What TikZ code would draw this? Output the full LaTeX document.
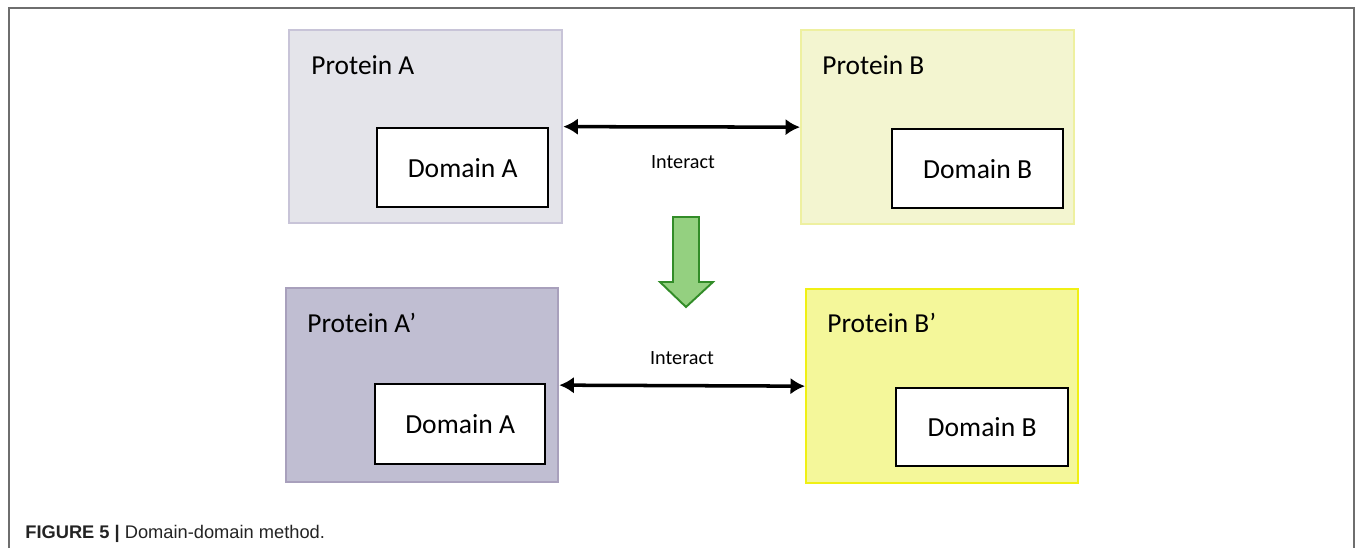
\documentclass[tikz,border=0pt]{standalone}
\usepackage{fontspec}
\setmainfont{Carlito}
\newfontfamily\capfont{Liberation Sans}
\usetikzlibrary{arrows.meta,positioning}
\definecolor{ProtA}{RGB}{228,228,234}
\definecolor{ProtAline}{RGB}{200,196,216}
\definecolor{ProtB}{RGB}{243,245,208}
\definecolor{ProtBline}{RGB}{238,240,160}
\definecolor{ProtAp}{RGB}{192,190,210}
\definecolor{ProtApline}{RGB}{168,160,188}
\definecolor{ProtBp}{RGB}{244,247,154}
\definecolor{ProtBpline}{RGB}{240,240,20}
\definecolor{downfill}{RGB}{148,208,128}
\definecolor{downedge}{RGB}{50,140,40}
\definecolor{framegray}{RGB}{110,110,110}
\definecolor{captext}{RGB}{35,35,35}
\newcommand{\px}{0.02cm}

\begin{document}
\begin{tikzpicture}[x=0.02cm,y=-0.02cm,
    protein/.style={draw,line width=1.3pt,anchor=north west,inner sep=0pt},
    domainbox/.style={draw=black,fill=white,line width=1.3pt,anchor=north west,
                   inner sep=0pt,font=\fontsize{15.7}{18}\selectfont},
    plabel/.style={anchor=west,inner sep=0pt,font=\fontsize{15.6}{18}\selectfont},
    ilabel/.style={inner sep=0pt,font=\fontsize{11.5}{14}\selectfont},
    interact/.style={{Latex[length=2.9mm,width=3.3mm]}-{Latex[length=2.9mm,width=3.3mm]},line width=2pt}]
  \useasboundingbox (0,0) rectangle (1355,548);
  % open frame round the figure
  \draw[framegray,line width=1.2pt] (9,548) -- (9,8) -- (1354,8) -- (1354,548);

  % original proteins
  \node[protein,fill=ProtA,draw=ProtAline,minimum width={273*\px},minimum height={193*\px}] (pa) at (288,29) {};
  \node[protein,fill=ProtB,draw=ProtBline,minimum width={273*\px},minimum height={194*\px}] (pb) at (800,29) {};
  \node[plabel] (pal) at (311,65) {Protein A};
  \node[plabel] (pbl) at (822,65) {Protein B};
  \node[domainbox,minimum width={171*\px},minimum height={79*\px}] (da) at (376,127) {Domain A};
  \node[domainbox,minimum width={171*\px},minimum height={79*\px}] (db) at (891,128) {Domain B};
  \draw[interact] (pa.east) -- (pb.west);
  \node[ilabel] (ia) at (683,162) {Interact};

  % green step arrow
  \draw[downedge,fill=downfill,line width=1.1pt,line join=miter]
    (673,217) -- (699,217) -- (699,282) -- (713,282) -- (686,307)
    -- (660,282) -- (673,282) -- cycle;

  % derived proteins
  \node[protein,fill=ProtAp,draw=ProtApline,minimum width={272*\px},minimum height={194*\px}] (pap) at (285,287) {};
  \node[protein,fill=ProtBp,draw=ProtBpline,minimum width={272*\px},minimum height={194*\px}] (pbp) at (805,288) {};
  \node[plabel] (papl) at (307,323) {Protein A’};
  \node[plabel] (pbpl) at (827,323) {Protein B’};
  \node[domainbox,minimum width={170*\px},minimum height={80*\px}] (dap) at (374,383) {Domain A};
  \node[domainbox,minimum width={172*\px},minimum height={78*\px}] (dbp) at (895,387) {Domain B};
  \draw[interact] (pap.east) -- (pbp.west);
  \node[ilabel] (ib) at (682,358) {Interact};

  % caption
  \node[anchor=base west,inner sep=0pt,text=captext,font=\capfont\fontsize{10.4}{12}\selectfont] (cap) at (25,538)
    {\textbf{FIGURE 5 |} Domain-domain method.};
\end{tikzpicture}
\end{document}
